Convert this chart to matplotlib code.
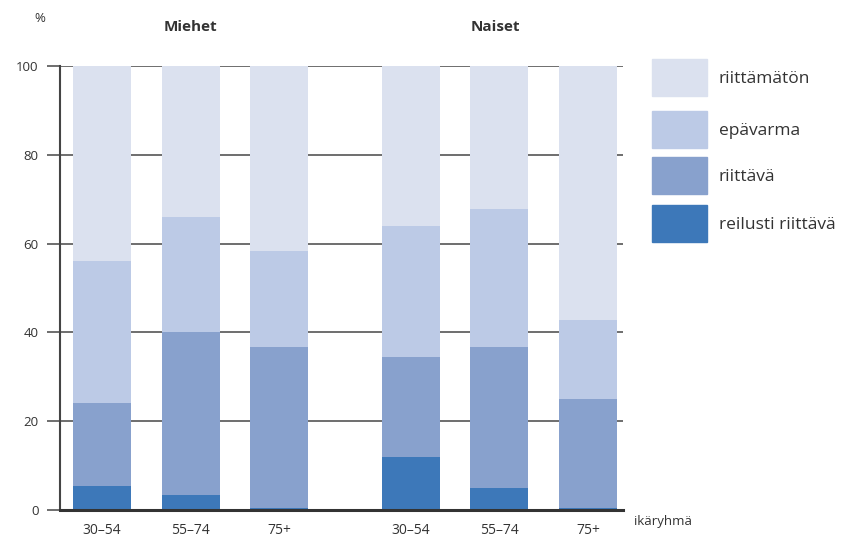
import numpy as np
import matplotlib
matplotlib.use('Agg')
import matplotlib.pyplot as plt

# Data
groups = ['Miehet', 'Naiset']
ages = ['30–54', '55–74', '75+', '30–54', '55–74', '75+']
categories = ['reilusti riittävä', 'riittävä', 'epävarma', 'riittämätön']
reilusti = [5.4, 3.4, 0.5, 12.0, 5.0, 0.5]
riittava = [18.6, 36.6, 36.2, 22.5, 31.7, 24.5]
epavarma = [32.0, 26.0, 21.6, 29.5, 31.1, 17.8]
riittamaton = [44.0, 34.0, 41.7, 36.0, 32.2, 57.2]
colors = ['#3d78b9', '#88a1cd', '#bccae6', '#dbe1ef']

plt.rcParams['font.family'] = ['Open Sans', 'DejaVu Sans']

fig = plt.figure(figsize=(8.41, 5.37), dpi=100)
W, H = 841, 537
ax = fig.add_axes([60 / W, 1 - 510 / H, (623 - 60) / W, (510 - 66) / H])

x = np.array([0, 1, 2, 3.49, 4.49, 5.49])
width = 0.655
bottom = np.zeros(len(x))
for vals, c in zip([reilusti, riittava, epavarma, riittamaton], colors):
    ax.bar(x, vals, width, bottom=bottom, color=c, zorder=3, linewidth=0)
    bottom += np.array(vals)

ax.set_xlim(-0.475, 5.887)
ax.set_ylim(0, 100)
ax.set_yticks([0, 20, 40, 60, 80, 100])
ax.yaxis.grid(True, color='#555555', lw=1.2, zorder=1)
ax.set_axisbelow(True)
ax.tick_params(axis='y', length=9.5, width=1.2, color='#555555', labelsize=9.5,
               labelcolor='#333333', pad=6)
ax.set_xticks(x)
ax.set_xticklabels(ages, fontsize=10, color='#333333')
ax.tick_params(axis='x', length=0, pad=9)
for s in ['top', 'right']:
    ax.spines[s].set_visible(False)
ax.spines['left'].set_color('#444444')
ax.spines['left'].set_linewidth(1.5)
ax.spines['bottom'].set_color('#333333')
ax.spines['bottom'].set_linewidth(2.2)
ax.spines['bottom'].set_zorder(4)

fig.text(40 / W, 1 - 19 / H, '%', fontsize=9.5, color='#333333', ha='center', va='center')
fig.text(190 / W, 1 - 27 / H, groups[0], fontsize=11, fontweight='bold',
         color='#333333', ha='center', va='center')
fig.text(495 / W, 1 - 27 / H, groups[1], fontsize=11, fontweight='bold',
         color='#333333', ha='center', va='center')
fig.text(634 / W, 1 - 521 / H, 'ikäryhmä', fontsize=9.5, color='#333333',
         ha='left', va='center')

# Legend drawn manually as figure patches
leg_tops = [59, 111, 157, 205]
for name, c, top in zip(categories[::-1], colors[::-1], leg_tops):
    fig.patches.append(plt.Rectangle((652 / W, 1 - (top + 37) / H), 55 / W, 37 / H,
                                     transform=fig.transFigure, color=c))
    fig.text(719 / W, 1 - (top + 20) / H, name, fontsize=12.5, color='#333333',
             ha='left', va='center')

plt.savefig('out.png', dpi=100)
